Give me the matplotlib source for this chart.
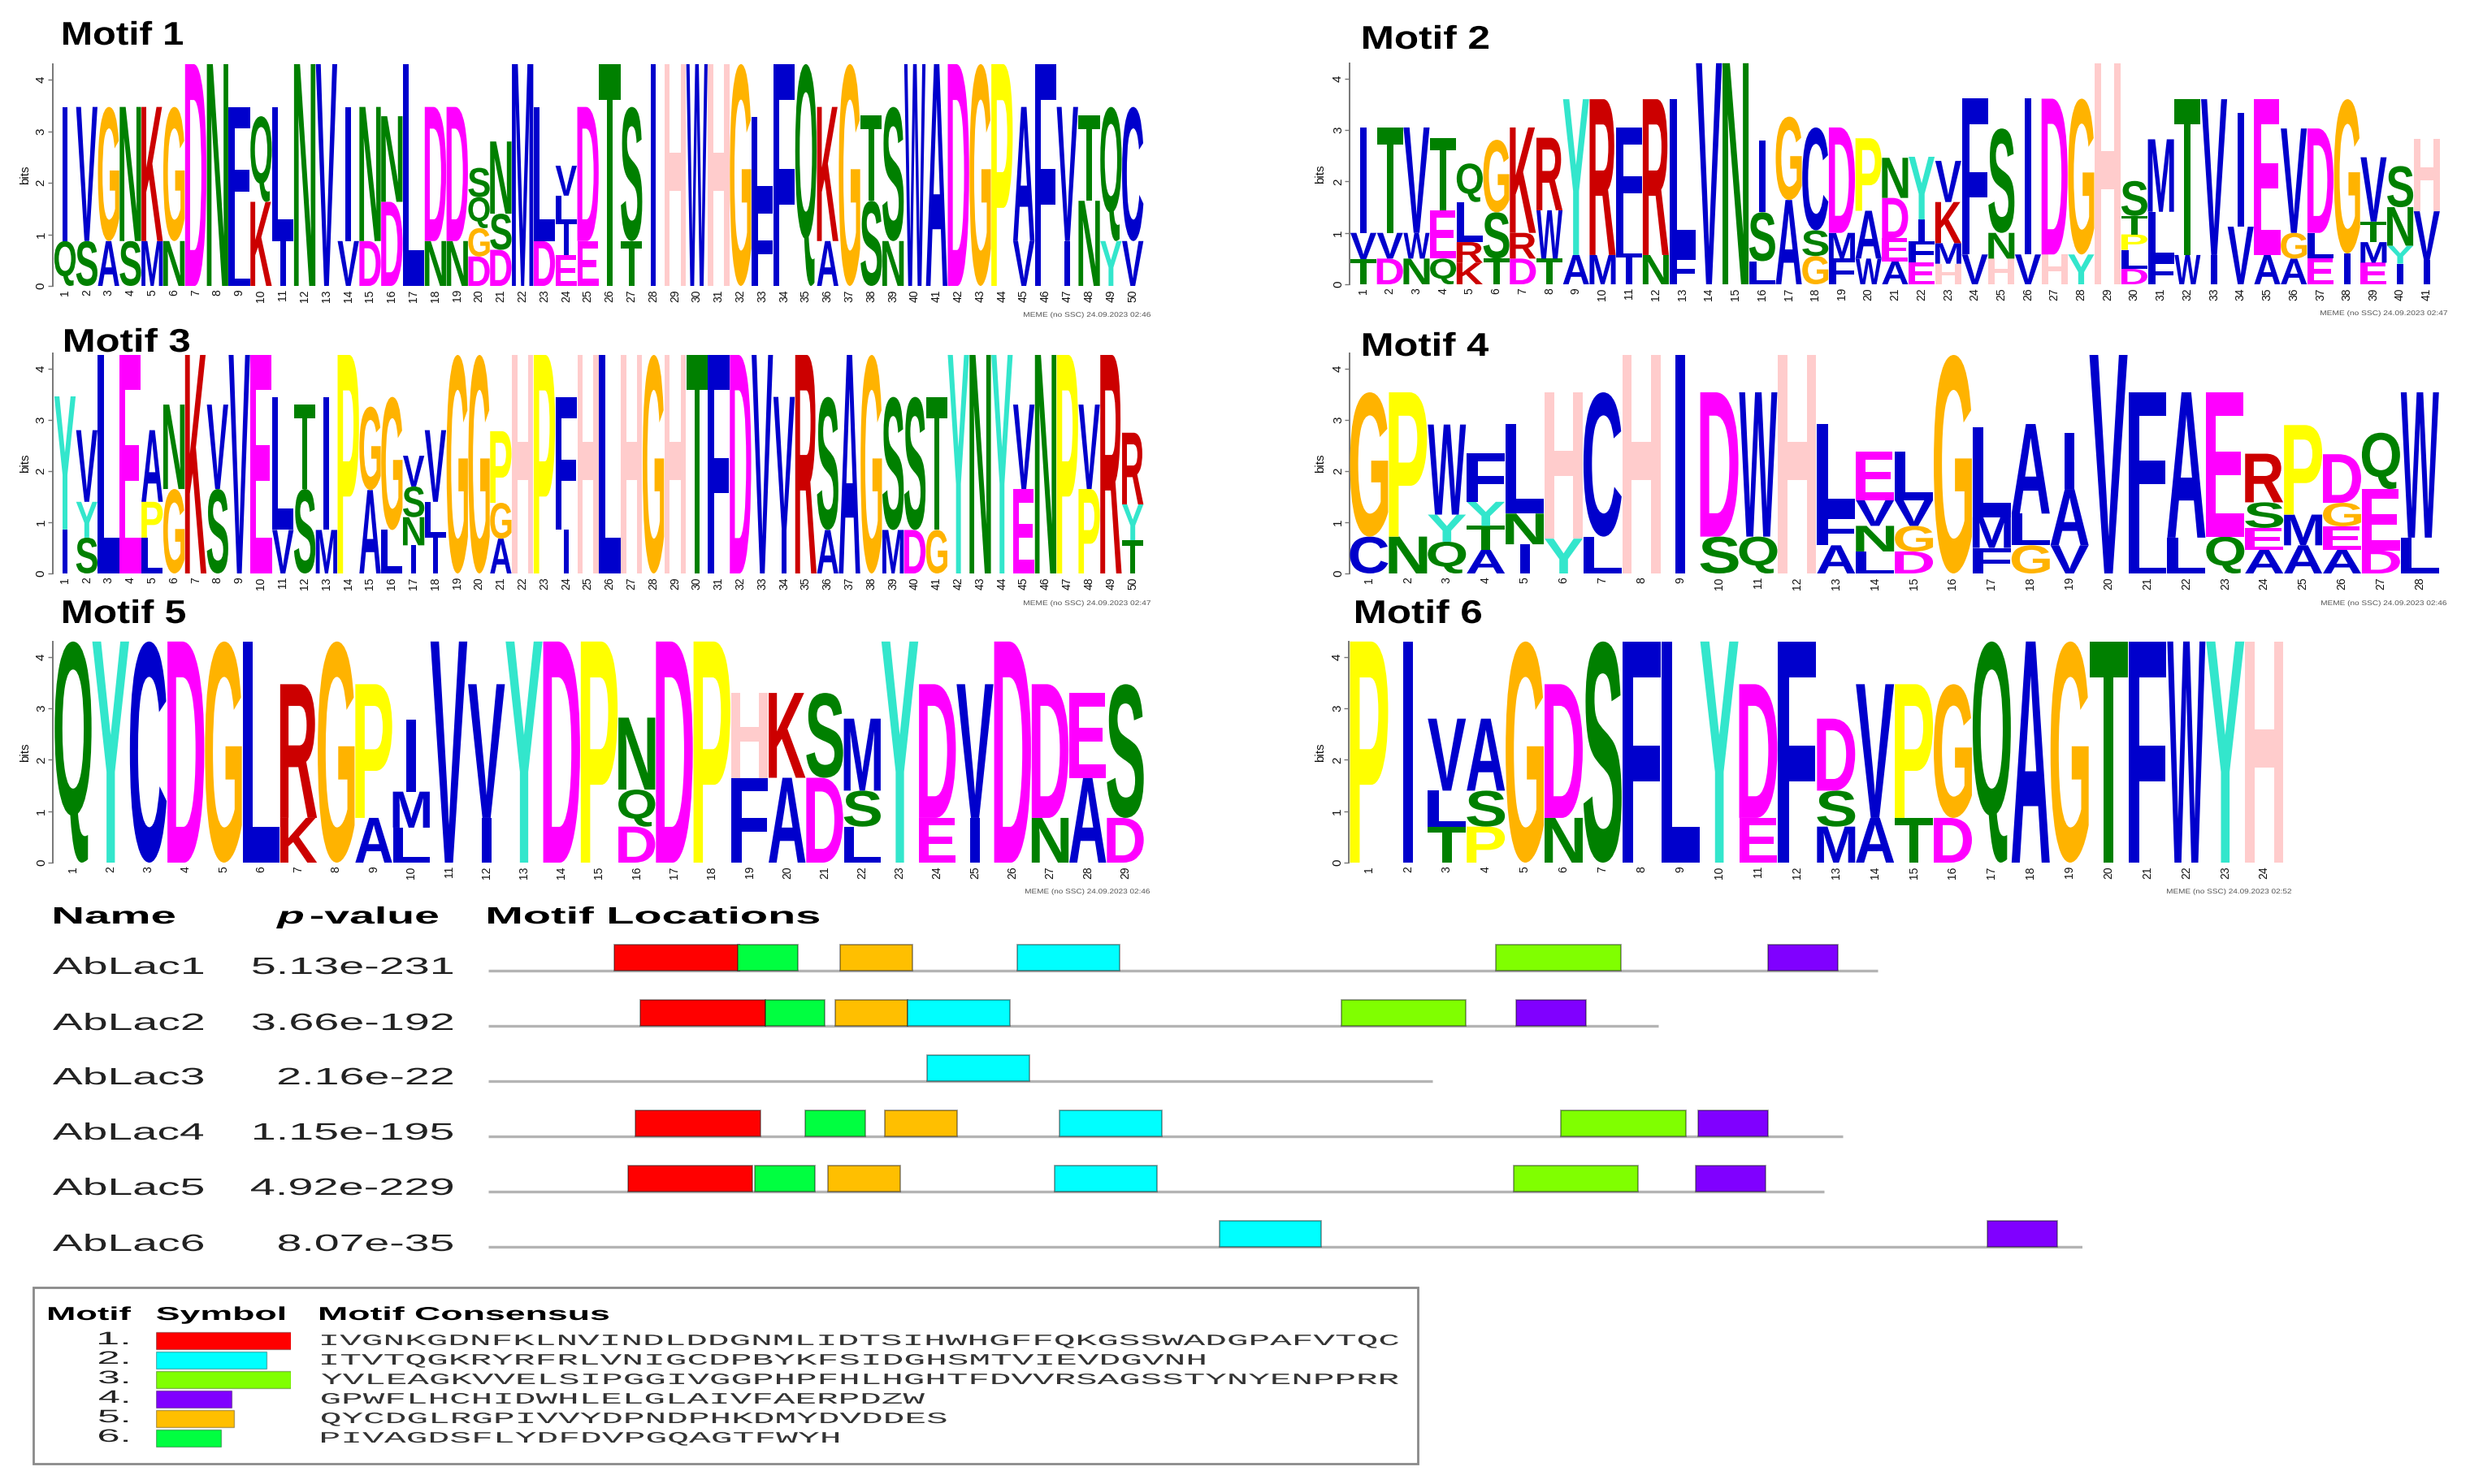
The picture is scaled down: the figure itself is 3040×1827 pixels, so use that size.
import matplotlib
matplotlib.use("Agg")
import matplotlib.pyplot as plt
import matplotlib.patheffects as pe
from matplotlib.transforms import Affine2D

# --- logo data: each column is "letter+bits" from bottom to top ---
motif1 = ["Q.87 I2.6", "S.87 V2.6", "A.87 G2.6", "S.87 N2.6", "M.87 K2.6", "N.87 G2.6", "D4.3", "N4.3", "L.87 F2.6", "K1.63 Q1.66",
          "I.87 L2.6", "N4.3", "V4.3", "V.87 I2.6", "D.87 N2.6", "D1.63 N1.66", "L4.3", "N.87 D2.6", "N.87 D2.6", "D.57 G.55 Q.6 S.57",
          "D.7 S.7 N1.4", "M4.3", "D.87 L2.6", "E.6 I.6 L.55 V.58", "E.87 D2.6", "T4.3", "T.87 S2.6", "I4.3", "H4.3", "W4.3",
          "H4.3", "G4.3", "F1.68 L1.6", "F4.3", "Q4.3", "A.87 K2.6", "G4.3", "S1.65 T1.65", "N.87 S2.6", "W4.3",
          "A4.3", "D4.3", "G4.3", "P4.3", "V.87 A2.6", "F4.3", "I.87 V2.6", "N1.65 T1.65", "Y.87 Q2.6", "V.87 C2.6"]
motif2 = ["T.49 V.51 I2.05", "D.5 V.5 T2.05", "N.5 W.5 V2.05", "Q.5 E.94 T1.4", "K.42 R.4 L.78 Q.75", "T.5 S.9 G1.41", "D.5 R.5 K2.05", "T.5 W.94 R1.41", "A.57 Y3.03", "M.57 R3.03",
          "I.52 L.5 F2.03", "N.57 R3.03", "F.57 L3.03", "V4.3", "N4.3", "L.45 S.95 I1.4", "A1.64 G1.62", "G.55 S.5 C2.0", "F.5 M.5 D2.05", "W.5 A.93 P1.41",
          "A.45 E.45 D.78 N.78", "E.42 F.42 I.42 Y1.22", "H.4 M.4 K.8 V.8", "V.58 F3.03", "H.5 N.5 S2.03", "V.58 I3.03", "H.58 D3.03", "Y.58 G3.03", "H4.3", "D.3 L.37 P.3 T.36 S.68",
          "F.47 L.94 M1.41", "W.57 T3.03", "I.57 V3.03", "V1.12 I2.21", "A.57 E3.03", "A.5 G.5 V2.03", "E.5 L.5 D2.03", "I.6 G3.0", "E.42 M.4 T.4 V1.25", "I.4 Y.35 N.75 S.8",
          "I.47 V.95 H1.41"]
motif3 = ["I.86 Y2.6", "S.7 Y.7 V1.4", "L4.27", "E4.27", "L.7 P.7 A1.4", "G1.65 N1.65", "K4.27", "S1.65 V1.65", "V4.27", "E4.27",
          "V.85 L2.6", "S1.65 T1.65", "M.85 I2.6", "P4.27", "A1.63 G1.63", "L.85 G2.6", "I.55 N.55 S.6 V.6", "I.7 L.7 V1.4", "G4.27", "G4.27",
          "A.68 G.7 P1.4", "H4.27", "P4.27", "I.85 F2.6", "H4.27", "L4.27", "H4.27", "G4.27", "H4.27", "T4.27",
          "F4.27", "D4.27", "V4.27", "I.85 V2.6", "R4.27", "A.85 S2.6", "A4.27", "G4.27", "M.85 S2.6", "D.85 S2.6",
          "G.85 T2.6", "Y4.27", "N4.27", "Y4.27", "E1.65 V1.65", "N4.27", "P4.27", "P1.65 V1.65", "R4.27", "T.65 Y.7 R1.4"]
motif4 = ["C.72 G2.82", "N.72 P2.82", "Q.62 Y.53 W1.76", "A.46 T.47 Y.47 F.95", "I.57 N.6 L1.75", "Y.68 H2.86", "L.72 C2.82", "H4.27", "I4.27", "S.72 D2.82",
          "Q.72 W2.82", "H4.27", "A.55 F.62 L1.75", "L.43 N.5 V.5 E.95", "D.43 G.5 V.5 L.95", "G4.27", "F.5 M.6 L1.76", "G.55 L.62 A1.75", "V.55 A1.1 I1.1", "V4.27",
          "L.7 F2.84", "L.7 A2.84", "Q.72 E2.82", "A.46 E.43 S.5 R.95", "A.55 M.6 P1.75", "A.46 E.46 G.46 D.95", "D.45 E1.2 Q1.1", "L.7 W2.84"]
motif5 = ["Q4.3", "Y4.3", "C4.3", "D4.3", "G4.3", "L4.3", "K.87 R2.6", "G4.3", "A.87 P2.6", "L.68 M.7 I1.4",
          "V4.3", "I.87 V2.6", "Y4.3", "D4.3", "P4.3", "D.7 Q.72 N1.4", "D4.3", "P4.3", "F1.65 H1.65", "A1.65 K1.65",
          "D1.65 S1.65", "L.7 S.7 M1.4", "Y4.3", "E.87 D2.6", "I.87 V2.6", "D4.3", "N.87 D2.6", "A1.65 E1.65", "D.87 S2.6"]
motif6 = ["P4.3", "I4.3", "T.7 L.7 V1.4", "P.7 S.7 A1.4", "G4.3", "N.87 D2.6", "S4.3", "F4.3", "L4.3", "Y4.3",
          "E.87 D2.6", "F4.3", "M.7 S.7 D1.4", "A.87 V2.6", "T.87 P2.6", "D.87 G2.6", "Q4.3", "A4.3", "G4.3", "T4.3",
          "F4.3", "W4.3", "Y4.3", "H4.3"]

# --- table and legend data ---
names = ["AbLac1", "AbLac2", "AbLac3", "AbLac4", "AbLac5", "AbLac6"]
pvalues = ["5.13e-231", "3.66e-192", "2.16e-22", "1.15e-195", "4.92e-229", "8.07e-35"]
protein_lengths = [557, 469, 378.5, 543, 535.5, 639]
hit_motifs = [[0, 5, 4, 1, 2, 3], [0, 5, 4, 1, 2, 3], [1], [0, 5, 4, 1, 2, 3], [0, 5, 4, 1, 2, 3], [1, 3]]
hit_starts = [[50.5, 100, 141, 212, 404, 513], [61, 111, 139, 168, 342, 412], [176],
              [59, 127, 159, 229, 430, 485], [56, 107, 136, 227, 411, 484], [293, 601]]
motif_lengths = [50, 41, 50, 28, 29, 24]
motif_colors = ["#FF0000", "#00FFFF", "#80FF00", "#8000FF", "#FFBF00", "#00FF40"]
consensus = ["IVGNKGDNFKLNVINDLDDGNMLIDTSIHWHGFFQKGSSWADGPAFVTQC",
             "ITVTQGKRYRFRLVNIGCDPBYKFSIDGHSMTVIEVDGVNH",
             "YVLEAGKVVELSIPGGIVGGPHPFHLHGHTFDVVRSAGSSTYNYENPPRR",
             "GPWFLHCHIDWHLELGLAIVFAERPDZW",
             "QYCDGLRGPIVVYDPNDPHKDMYDVDDES",
             "PIVAGDSFLYDFDVPGQAGTFWYH"]

letter_colors = {}
for aa in "ACFILMVW":
    letter_colors[aa] = "#0000CC"
for aa in "NQST":
    letter_colors[aa] = "#008000"
for aa in "DE":
    letter_colors[aa] = "#FF00FF"
for aa in "KR":
    letter_colors[aa] = "#CC0000"
letter_colors.update({"G": "#FFB300", "H": "#FFCCCC", "P": "#FFFF00", "Y": "#33E6CC"})


class FitBox(pe.AbstractPathEffect):
    """Stretches a text's glyphs into a box given in data coords (y optional)."""
    def __init__(self, ax, x0, x1, y0=None, y1=None):
        super().__init__()
        self.ax, self.x0, self.x1, self.y0, self.y1 = ax, x0, x1, y0, y1

    def draw_path(self, renderer, gc, tpath, affine, rgbFace=None):
        bb = tpath.get_extents(affine)
        if self.y0 is None:
            (px0, _), (px1, _) = self.ax.transData.transform([(self.x0, 0), (self.x1, 0)])
            fit = Affine2D().translate(-bb.x0, 0).scale((px1 - px0) / bb.width, 1).translate(px0, 0)
        else:
            (px0, py0), (px1, py1) = self.ax.transData.transform([(self.x0, self.y0), (self.x1, self.y1)])
            fit = (Affine2D().translate(-bb.x0, -bb.y0)
                   .scale((px1 - px0) / bb.width, (py1 - py0) / bb.height).translate(px0, py0))
        renderer.draw_path(gc, tpath, affine + fit, rgbFace)


fig = plt.figure(figsize=(30.4, 18.27), dpi=100)
W, H = 3040.0, 1827.0

page = fig.add_axes([0, 0, 1, 1])
page.set_xlim(0, W)
page.set_ylim(H, 0)
page.axis("off")


def px_axes(left, top, right, bottom):
    return fig.add_axes([left / W, 1 - bottom / H, (right - left) / W, (bottom - top) / H])


def put(x0, x1, base, s, size, weight="normal", style="normal", family="Liberation Sans", color="black"):
    page.text((x0 + x1) / 2, base, s, fontsize=size, fontweight=weight, fontstyle=style, family=family,
              color=color, ha="center", va="baseline",
              path_effects=[FitBox(page, x0, x1)])


def draw_logo(columns, axis_x, first_c, cell, base, bit, label_x):
    n = len(columns)
    top_bits = 4.3
    ax = px_axes(axis_x, base - bit * top_bits, first_c + (n - 0.5) * cell, base)
    ax.patch.set_visible(False)
    ax.set_xlim(1 + (axis_x - first_c) / cell, n + 0.5)
    ax.set_ylim(0, top_bits)
    for i, col in enumerate(columns):
        pos = i + 1
        y = 0.0
        for part in col.split():
            aa, h = part[0], float(part[1:])
            half = 0.125 if aa == "I" else 0.49
            ax.text(pos, y + h / 2, aa, fontsize=20, fontweight="bold", family="Liberation Sans",
                    color=letter_colors[aa], ha="center", va="center",
                    path_effects=[FitBox(ax, pos - half, pos + half, y, y + h)])
            y += h
    for s in ["top", "right", "bottom"]:
        ax.spines[s].set_visible(False)
    ax.spines["left"].set_color("#777777")
    ax.spines["left"].set_linewidth(1.4)
    ax.set_yticks([0, 1, 2, 3, 4])
    ax.set_yticklabels(["0", "1", "2", "3", "4"], rotation=90, va="center", fontsize=11, family="Liberation Sans", color="#111111")
    ax.tick_params(axis="y", length=4, width=1, color="#777777", pad=1)
    ax.set_xticks(range(1, n + 1))
    ax.set_xticklabels([str(k) for k in range(1, n + 1)], rotation=90, fontsize=10, family="Liberation Sans", color="#111111")
    ax.tick_params(axis="x", length=0, pad=3)
    page.text(label_x, base - bit * 2.15, "bits", rotation=90, fontsize=11, family="Liberation Sans",
              color="#111111", ha="center", va="center")


# --- logos ---
draw_logo(motif1, 64.5, 80, 26.82, 352, 63.5, 31)
draw_logo(motif2, 1661, 1678, 32.72, 350, 63.3, 1625)
draw_logo(motif3, 64.5, 80, 26.82, 706, 63, 31)
draw_logo(motif4, 1661, 1685, 47.9, 706, 63, 1625)
draw_logo(motif5, 65, 90, 46.25, 1062, 63.3, 31)
draw_logo(motif6, 1660, 1685, 47.9, 1062, 63.3, 1625)

# --- titles ---
put(78, 225, 55, "Motif 1", 29, weight="bold")
put(1678, 1832, 60, "Motif 2", 29, weight="bold")
put(80, 233, 433, "Motif 3", 29, weight="bold")
put(1678, 1832, 438, "Motif 4", 29, weight="bold")
put(78, 228, 767, "Motif 5", 29, weight="bold")
put(1669, 1823, 767, "Motif 6", 29, weight="bold")

# --- MEME stamps ---
put(1260, 1416, 390, "MEME (no SSC) 24.09.2023 02:46", 6, color="#555555")
put(2856, 3012, 388, "MEME (no SSC) 24.09.2023 02:47", 6, color="#555555")
put(1260, 1416, 745, "MEME (no SSC) 24.09.2023 02:47", 6, color="#555555")
put(2857, 3011, 745, "MEME (no SSC) 24.09.2023 02:46", 6, color="#555555")
put(1262, 1415, 1100, "MEME (no SSC) 24.09.2023 02:46", 6, color="#555555")
put(2667, 2820, 1100, "MEME (no SSC) 24.09.2023 02:52", 6, color="#555555")

# --- block diagram ---
put(67, 215, 1137, "Name", 21, weight="bold")
put(340, 373, 1137, "p", 21, weight="bold", style="italic")
put(383, 539, 1137, "-value", 21, weight="bold")
put(601, 1008, 1137, "Motif Locations", 21, weight="bold")

name_bases = [1199, 1268, 1335, 1403, 1471, 1540]
p_lefts = [311, 311, 343, 313, 309, 343]
for i in range(len(names)):
    put(65, 250, name_bases[i], names[i], 21, color="#222222")
    put(p_lefts[i], 557, name_bases[i], pvalues[i], 21, color="#222222")

blocks = px_axes(601, 1150, 601 + 639 * 3.07, 1550)
blocks.set_xlim(0, 639)
blocks.set_ylim((1550 - 1195) / 68, (1150 - 1195) / 68)
blocks.axis("off")
for i, plen in enumerate(protein_lengths):
    blocks.hlines(i, 0, plen, color="#b4b4b4", linewidth=2.4, zorder=1)
    for m, start in zip(hit_motifs[i], hit_starts[i]):
        blocks.barh(i, motif_lengths[m], left=start, height=0.47, align="edge", color=motif_colors[m],
                    edgecolor=(0, 0, 0, 0.4), linewidth=1.3, zorder=2)
        blocks.patches[-1].set_y(i - 0.47)

# --- legend ---
page.add_patch(plt.Rectangle((41, 1585), 1704, 217, facecolor="white", edgecolor="#8a8a8a", linewidth=2))
put(60, 161, 1625, "Motif", 16.5, weight="bold")
put(193, 350, 1625, "Symbol", 16.5, weight="bold")
put(394, 749, 1625, "Motif Consensus", 16.5, weight="bold")

legend_bars = px_axes(192, 1638, 192 + 50 * 3.32, 1783)
legend_bars.set_xlim(0, 50)
legend_bars.set_ylim(5.5, -0.5)
legend_bars.axis("off")
legend_bars.barh(range(6), motif_lengths, height=0.87, color=motif_colors, edgecolor=(0, 0, 0, 0.3), linewidth=1)

for i, seq in enumerate(consensus):
    base = 1656 + i * 24
    put(122, 157, base - 1, f"{i + 1}.", 16, color="#222222")
    put(396, 396 + 26.5 * len(seq), base, seq, 14, family="Liberation Mono", color="#333333")

fig.savefig("out.png", dpi=100)
